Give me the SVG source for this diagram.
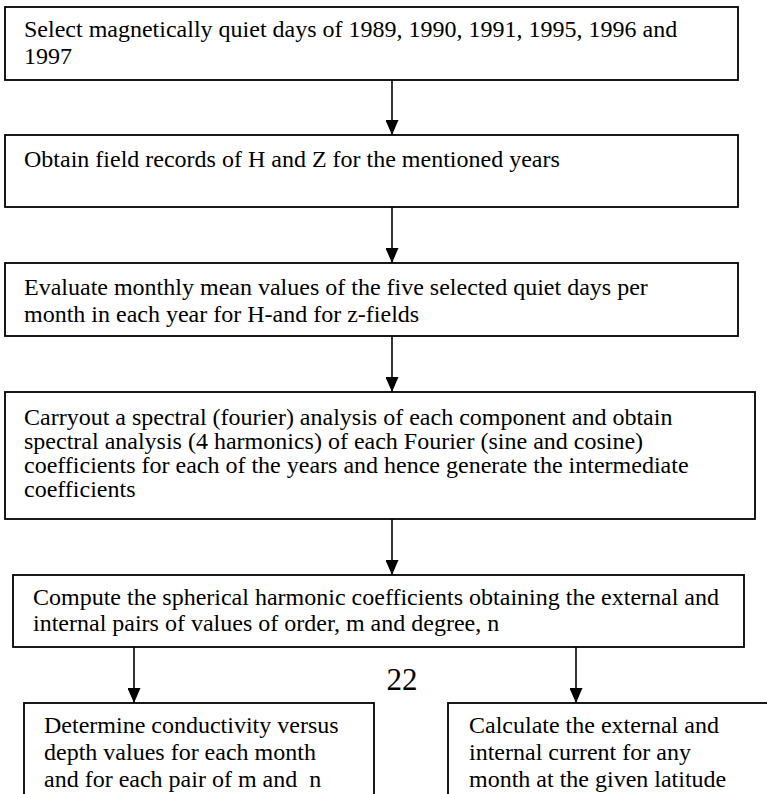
<svg xmlns="http://www.w3.org/2000/svg" width="767" height="794" viewBox="0 0 767 794">
<defs>
<style>
.box{fill:#fff;stroke:#000;stroke-width:1.8}
.t{font-family:"Liberation Serif","Times New Roman",serif;font-size:24px;fill:#000;white-space:pre}
.c{stroke:#000;stroke-width:1.6;fill:none}
</style>
<marker id="ad" markerUnits="userSpaceOnUse" markerWidth="16" markerHeight="13" refX="15" refY="6.5" orient="auto" viewBox="0 0 16 13">
<path d="M0,0 L15,6.5 L0,13 Z" fill="#000"/>
</marker>
</defs>
<rect width="767" height="794" fill="#fff"/>
<g id="connectors">
<line class="c" x1="392" y1="80" x2="392" y2="135" marker-end="url(#ad)"/>
<line class="c" x1="392" y1="207" x2="392" y2="263" marker-end="url(#ad)"/>
<line class="c" x1="392" y1="336" x2="392" y2="392" marker-end="url(#ad)"/>
<line class="c" x1="392" y1="519" x2="392" y2="575" marker-end="url(#ad)"/>
<line class="c" x1="134" y1="647" x2="134" y2="703" marker-end="url(#ad)"/>
<line class="c" x1="576" y1="647" x2="576" y2="703" marker-end="url(#ad)"/>
</g>
<g id="n1">
<rect class="box" x="5" y="7" width="733" height="73"/>
<text class="t" x="24" y="37">Select magnetically quiet days of 1989, 1990, 1991, 1995, 1996 and</text>
<text class="t" x="24" y="64">1997</text>
</g>
<g id="n2">
<rect class="box" x="5" y="135" width="733" height="72"/>
<text class="t" x="24" y="167">Obtain field records of H and Z for the mentioned years</text>
</g>
<g id="n3">
<rect class="box" x="5" y="263" width="733" height="73"/>
<text class="t" x="24" y="295">Evaluate monthly mean values of the five selected quiet days per</text>
<text class="t" x="24" y="322">month in each year for H-and for z-fields</text>
</g>
<g id="n4">
<rect class="box" x="5" y="392" width="750" height="127"/>
<text class="t" x="24" y="425">Carryout a spectral (fourier) analysis of each component and obtain</text>
<text class="t" x="24" y="449">spectral analysis (4 harmonics) of each Fourier (sine and cosine)</text>
<text class="t" x="24" y="473">coefficients for each of the years and hence generate the intermediate</text>
<text class="t" x="24" y="497">coefficients</text>
</g>
<g id="n5">
<rect class="box" x="13" y="575" width="731" height="72"/>
<text class="t" x="33" y="605">Compute the spherical harmonic coefficients obtaining the external and</text>
<text class="t" x="33" y="631">internal pairs of values of order, m and degree, n</text>
</g>
<text class="t" x="402" y="690" text-anchor="middle" style="font-size:31px">22</text>
<g id="n6">
<rect class="box" x="24" y="703" width="350" height="110"/>
<text class="t" x="44" y="733">Determine conductivity versus</text>
<text class="t" x="44" y="760">depth values for each month</text>
<text class="t" x="44" y="787">and for each pair of m and  n</text>
</g>
<g id="n7">
<rect class="box" x="448" y="703" width="340" height="110"/>
<text class="t" x="469" y="733">Calculate the external and</text>
<text class="t" x="469" y="760">internal current for any</text>
<text class="t" x="469" y="787">month at the given latitude</text>
</g>
</svg>
